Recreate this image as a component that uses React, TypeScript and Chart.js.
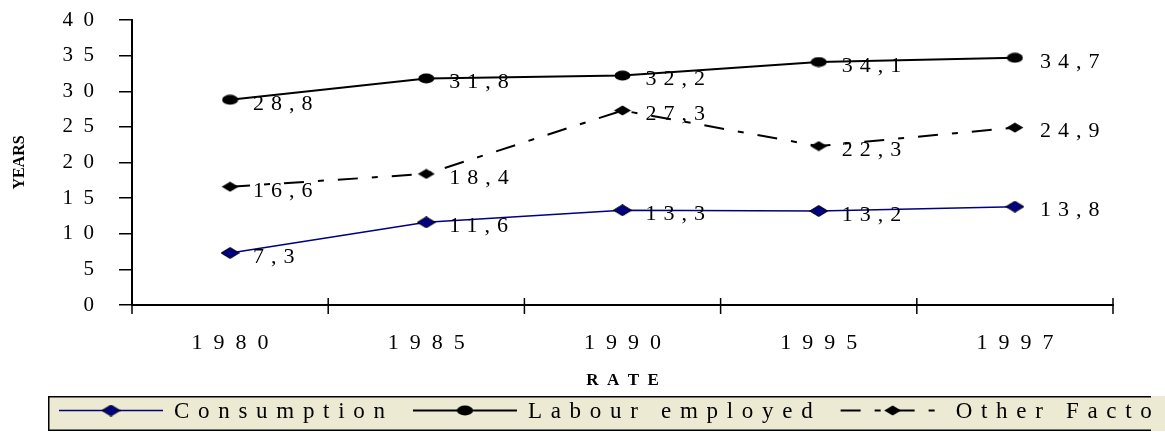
import React, { useEffect, useRef } from 'react';
import { Chart, registerables } from 'chart.js';

Chart.register(...registerables);

// ---- data ----
const years = ['1980', '1985', '1990', '1995', '1997'];
const consumption = [7.3, 11.6, 13.3, 13.2, 13.8];
const labourEmployed = [28.8, 31.8, 32.2, 34.1, 34.7];
const otherFactors = [16.6, 18.4, 27.3, 22.3, 24.9];
const seriesNames = ['Consumption', 'Labour employed', 'Other Factors'];
const xTitle = 'RATE';
const yTitle = 'YEARS';
const yMin = 0;
const yMax = 40;
const yStep = 5;

const SERIF = "'Liberation Serif', 'Times New Roman', serif";
const spaced = (s: string, sep = '\u2002') => s.split('').join(sep);
const fmt = (v: number) => v.toFixed(1).replace('.', ',');

function makeMarker(shape: 'diamond' | 'ellipse', fill: string, w: number, h: number, stroke?: string) {
  const c = document.createElement('canvas');
  c.width = w;
  c.height = h;
  const ctx = c.getContext('2d')!;
  ctx.fillStyle = fill;
  ctx.beginPath();
  if (shape === 'diamond') {
    ctx.moveTo(w / 2, 0.5);
    ctx.lineTo(w - 0.5, h / 2);
    ctx.lineTo(w / 2, h - 0.5);
    ctx.lineTo(0.5, h / 2);
    ctx.closePath();
  } else {
    ctx.ellipse(w / 2, h / 2, w / 2 - 0.5, h / 2 - 0.5, 0, 0, Math.PI * 2);
  }
  ctx.fill();
  if (stroke) {
    ctx.strokeStyle = stroke;
    ctx.lineWidth = 1;
    ctx.stroke();
  }
  return c;
}

const xTickPlugin = {
  id: 'xTickMarks',
  afterDraw(chart: any) {
    const x = chart.scales.x;
    const ctx = chart.ctx;
    const n = chart.data.labels.length;
    ctx.save();
    ctx.strokeStyle = '#000';
    ctx.lineWidth = 1.5;
    for (let i = 0; i <= n; i++) {
      const px = x.getPixelForValue(i - 0.5);
      ctx.beginPath();
      ctx.moveTo(px, x.top - 7);
      ctx.lineTo(px, x.top + 9);
      ctx.stroke();
    }
    ctx.restore();
  },
};

const dataLabelPlugin = {
  id: 'dataLabels',
  afterDatasetsDraw(chart: any) {
    const ctx = chart.ctx;
    ctx.save();
    ctx.font = `22px ${SERIF}`;
    (ctx as any).letterSpacing = '7px';
    ctx.fillStyle = '#000';
    ctx.textAlign = 'left';
    ctx.textBaseline = 'middle';
    chart.data.datasets.forEach((ds: any, di: number) => {
      const meta = chart.getDatasetMeta(di);
      meta.data.forEach((pt: any, i: number) => {
        const last = i === meta.data.length - 1;
        ctx.fillText(fmt(ds.data[i]), pt.x + (last ? 25 : 23), pt.y + 4);
      });
    });
    ctx.restore();
  },
};

const legendPlugin = {
  id: 'boxLegend',
  afterDraw(chart: any) {
    const ctx = chart.ctx;
    const top = 396;
    const bottom = 431;
    const left = 48;
    const clipRight = 1151;
    const cy = (top + bottom) / 2 - 3;
    ctx.save();
    ctx.fillStyle = '#ECEAD3';
    ctx.fillRect(left, top, chart.width - left, bottom - top);
    ctx.strokeStyle = '#000';
    ctx.lineWidth = 1.5;
    ctx.beginPath();
    ctx.moveTo(clipRight, top + 0.75);
    ctx.lineTo(left + 0.75, top + 0.75);
    ctx.lineTo(left + 0.75, bottom - 0.75);
    ctx.lineTo(clipRight, bottom - 0.75);
    ctx.stroke();

    ctx.beginPath();
    ctx.rect(left, top, clipRight - left, bottom - top);
    ctx.clip();

    const spacing = 8.7;
    ctx.font = `23px ${SERIF}`;
    let x = 59;
    chart.data.datasets.forEach((ds: any) => {
      const sampleLen = 104;
      ctx.save();
      ctx.strokeStyle = ds.borderColor;
      ctx.lineWidth = ds.borderWidth;
      ctx.setLineDash(ds.borderDash || []);
      ctx.beginPath();
      ctx.moveTo(x, cy);
      ctx.lineTo(x + sampleLen, cy);
      ctx.stroke();
      ctx.restore();
      const m = ds.pointStyle;
      ctx.drawImage(m, x + sampleLen / 2 - m.width / 2, cy - m.height / 2);
      const tx = x + sampleLen + 11;
      (ctx as any).letterSpacing = '0px';
      const w0 = ctx.measureText(ds.label).width;
      const w = w0 + spacing * (ds.label.length - 1);
      (ctx as any).letterSpacing = `${spacing}px`;
      ctx.fillStyle = '#000';
      ctx.textAlign = 'left';
      ctx.textBaseline = 'middle';
      ctx.fillText(ds.label, tx, cy + 1);
      x = tx + w + 28;
    });
    ctx.restore();
  },
};

export default function App() {
  const canvasRef = useRef<HTMLCanvasElement | null>(null);

  useEffect(() => {
    const canvas = canvasRef.current;
    if (!canvas) return;
    const navyDiamond = makeMarker('diamond', '#000080', 19, 12, '#000');
    const blackEllipse = makeMarker('ellipse', '#000', 17, 11);
    const blackDiamond = makeMarker('diamond', '#000', 18, 11);

    const chart = new Chart(canvas, {
      type: 'line',
      data: {
        labels: years,
        datasets: [
          {
            label: seriesNames[0],
            data: consumption,
            borderColor: '#000080',
            backgroundColor: '#000080',
            borderWidth: 1.5,
            pointStyle: navyDiamond as any,
            pointRadius: 8,
            tension: 0,
            fill: false,
          },
          {
            label: seriesNames[1],
            data: labourEmployed,
            borderColor: '#000',
            backgroundColor: '#000',
            borderWidth: 2,
            pointStyle: blackEllipse as any,
            pointRadius: 8,
            tension: 0,
            fill: false,
          },
          {
            label: seriesNames[2],
            data: otherFactors,
            borderColor: '#000',
            backgroundColor: '#000',
            borderWidth: 2,
            borderDash: [20, 14, 6, 14],
            pointStyle: blackDiamond as any,
            pointRadius: 8,
            tension: 0,
            fill: false,
          },
        ],
      },
      options: {
        responsive: false,
        animation: false,
        layout: { padding: { top: 20, right: 52, bottom: 0, left: 0 } },
        plugins: {
          legend: { display: false },
          tooltip: { enabled: false },
        },
        scales: {
          x: {
            type: 'category',
            offset: true,
            grid: { display: false, drawTicks: false, offset: true },
            border: { display: true, color: '#000', width: 2 },
            ticks: {
              color: '#000',
              font: { family: SERIF, size: 22 },
              padding: 25,
              maxRotation: 0,
              autoSkip: false,
              callback: (_v: any, i: number) => spaced(years[i]),
            },
            title: {
              display: true,
              text: spaced(xTitle),
              color: '#000',
              font: { family: SERIF, size: 17, weight: 'bold' },
              padding: { top: 0, bottom: 41 },
            },
            afterFit: (s: any) => {
              s.height = 127;
              s.paddingLeft = 0;
              s.paddingRight = 0;
            },
          },
          y: {
            min: yMin,
            max: yMax,
            ticks: {
              stepSize: yStep,
              color: '#000',
              font: { family: SERIF, size: 21 },
              padding: 25,
              callback: (v: any) => spaced(String(v)),
            },
            grid: {
              drawOnChartArea: false,
              drawTicks: true,
              tickLength: 13,
              color: '#000',
              lineWidth: 1.5,
            },
            border: { display: true, color: '#000', width: 2 },
            title: {
              display: true,
              text: yTitle,
              color: '#000',
              font: { family: SERIF, size: 16, weight: 'bold' },
              padding: { top: 10, bottom: 0 },
            },
            afterFit: (s: any) => {
              s.width = 132;
              s.paddingTop = 0;
              s.paddingBottom = 0;
            },
          },
        },
      } as any,
      plugins: [xTickPlugin, dataLabelPlugin, legendPlugin],
    });
    return () => chart.destroy();
  }, []);

  return (
    <div style={{ position: 'fixed', left: 0, top: 0, width: 1165, height: 432, background: '#fff' }}>
      <canvas ref={canvasRef} width={1165} height={432} style={{ width: 1165, height: 432, display: 'block' }} />
    </div>
  );
}
